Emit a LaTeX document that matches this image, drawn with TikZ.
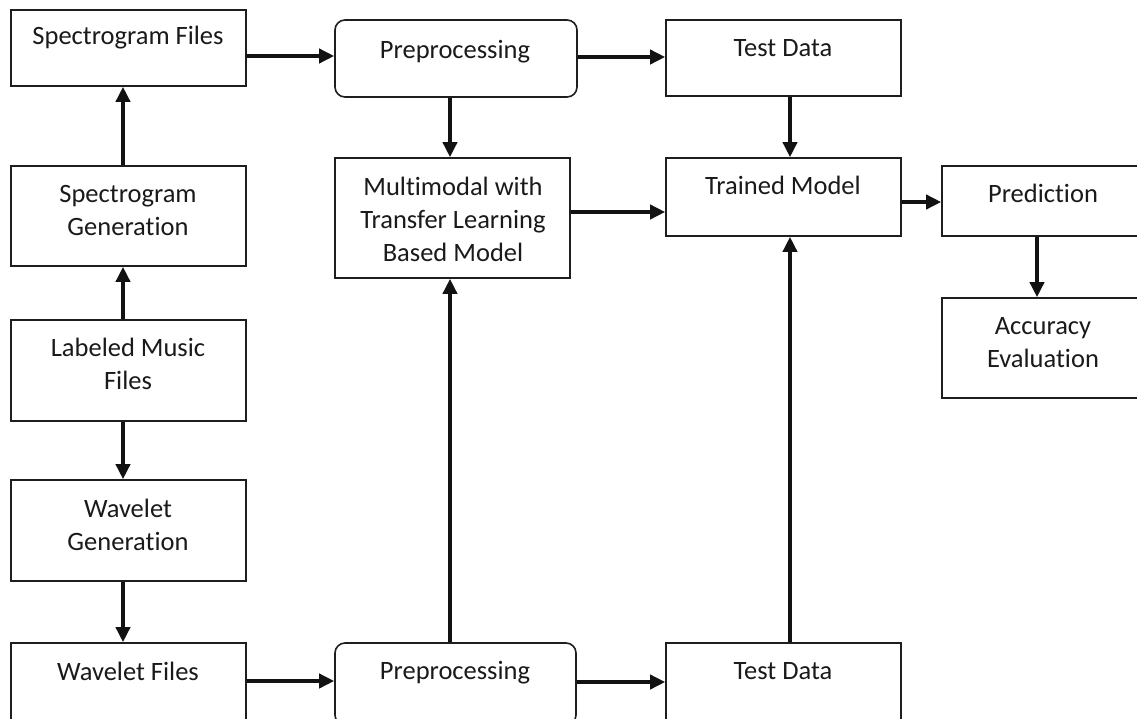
\documentclass[tikz,border=0pt]{standalone}
\usepackage{fontspec}
\setmainfont[Ligatures={NoCommon}]{Carlito}
\usetikzlibrary{arrows.meta}
\definecolor{boxline}{HTML}{1E1E1E}
\definecolor{txt}{HTML}{1A1A1A}
\tikzset{
  box/.style={draw=boxline, line width=1.6pt, inner sep=0pt, fill=none},
  rbox/.style={box, rounded corners=10pt},
  lbl/.style={text=txt, align=center, inner sep=0pt, font=\fontsize{26.5}{33}\selectfont},
  arr/.style={draw=black!93, line width=3.6pt, -{Triangle[length=15pt, width=14pt]}},
}
\begin{document}
\begin{tikzpicture}[x=1pt, y=-1pt]
\useasboundingbox (0,0) rectangle (1137,718);
\fill[white] (0,0) rectangle (1137,718);

% boxes
\node[box, minimum width=235pt, minimum height=76pt] (sf) at (128.5,48) {};
\node[box, minimum width=235pt, minimum height=100pt] (sg) at (128.5,216) {};
\node[box, minimum width=235pt, minimum height=101pt] (lm) at (128.5,370.5) {};
\node[box, minimum width=235pt, minimum height=101pt] (wg) at (128.5,530.5) {};
\node[box, minimum width=235pt, minimum height=82pt] (wf) at (128.5,684) {};

\node[rbox, minimum width=242pt, minimum height=77pt] (pre1) at (456,58.5) {};
\node[box, minimum width=235pt, minimum height=120pt] (mm) at (452.5,218) {};
\node[rbox, minimum width=241pt, minimum height=82pt] (pre2) at (455.5,684) {};

\node[box, minimum width=235pt, minimum height=76pt] (td1) at (783.5,58) {};
\node[box, minimum width=235pt, minimum height=78pt] (tm) at (783.5,197) {};
\node[box, minimum width=235pt, minimum height=82pt] (td2) at (783.5,684) {};

\node[box, minimum width=203pt, minimum height=70pt] (pred) at (1043.5,201) {};
\node[box, minimum width=203pt, minimum height=100pt] (acc) at (1043.5,348) {};

% labels
\node[lbl] (sf-t) at (128,38) {Spectrogram Files};
\node[lbl] (sg-t) at (128,210) {Spectrogram\\Generation};
\node[lbl] (lm-t) at (128,364) {Labeled Music\\Files};
\node[lbl] (wg-t) at (128,525) {Wavelet\\Generation};
\node[lbl] (wf-t) at (128,671) {Wavelet Files};
\node[lbl] (pre1-t) at (455,52) {Preprocessing};
\node[lbl] (mm-t) at (453,219) {Multimodal with\\Transfer Learning\\Based Model};
\node[lbl] (pre2-t) at (455,673) {Preprocessing};
\node[lbl] (td1-t) at (783,48) {Test Data};
\node[lbl] (tm-t) at (783,185) {Trained Model};
\node[lbl] (td2-t) at (783,671) {Test Data};
\node[lbl] (pred-t) at (1043,193) {Prediction};
\node[lbl] (acc-t) at (1043,343) {Accuracy\\Evaluation};

% guide coordinates
\coordinate (cL) at (123,0);
\coordinate (cM) at (450,0);
\coordinate (cT) at (790,0);
\coordinate (cP) at (1037,0);
\coordinate (r1a) at (0,56);
\coordinate (r1b) at (0,57);
\coordinate (r2a) at (0,212);
\coordinate (r2b) at (0,202);
\coordinate (r3a) at (0,681);
\coordinate (r3b) at (0,682);

% connectors
\draw[arr] (sg.north -| cL) -- (sf.south -| cL);
\draw[arr] (lm.north -| cL) -- (sg.south -| cL);
\draw[arr] (lm.south -| cL) -- (wg.north -| cL);
\draw[arr] (wg.south -| cL) -- (wf.north -| cL);

\draw[arr] (sf.east |- r1a) -- (pre1.west |- r1a);
\draw[arr] (pre1.east |- r1b) -- (td1.west |- r1b);
\draw[arr] (pre1.south -| cM) -- (mm.north -| cM);
\draw[arr] (mm.east |- r2a) -- (tm.west |- r2a);
\draw[arr] (td1.south -| cT) -- (tm.north -| cT);
\draw[arr] (tm.east |- r2b) -- (pred.west |- r2b);
\draw[arr] (pred.south -| cP) -- (acc.north -| cP);

\draw[arr] (wf.east |- r3a) -- (pre2.west |- r3a);
\draw[arr] (pre2.east |- r3b) -- (td2.west |- r3b);
\draw[arr] (pre2.north -| cM) -- (mm.south -| cM);
\draw[arr] (td2.north -| cT) -- (tm.south -| cT);
\end{tikzpicture}
\end{document}
